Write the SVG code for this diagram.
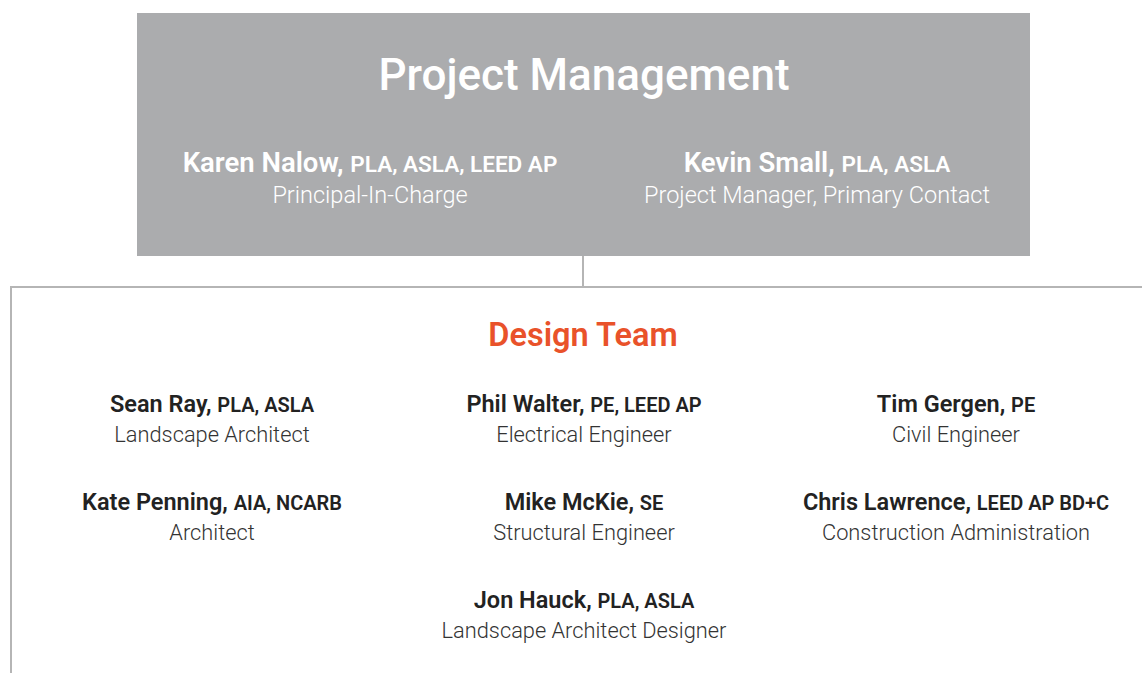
<svg xmlns="http://www.w3.org/2000/svg" width="1142" height="673" viewBox="0 0 1142 673">
<style>
text{font-family:Roboto,"Liberation Sans",sans-serif;text-anchor:middle}
.title{font-size:44px;font-weight:500;fill:#fff}
.pmname{font-size:27.5px;font-weight:600;fill:#fff}
.pmcred{font-size:22.5px;font-weight:600}
.pmrole{font-size:23.5px;font-weight:300;fill:#fff}
.team{font-size:32.5px;font-weight:600;fill:#E9522A}
.name{font-size:23.5px;font-weight:600;fill:#222}
.cred{font-size:20px;font-weight:600}
.role{font-size:21.8px;font-weight:300;fill:#333}
.line{stroke:#B5B5B5;stroke-width:2;fill:none}
</style>
<g id="connectors">
<path class="line" d="M583 256V287M10 287H1142M11 286V673"/>
</g>
<g id="project-management">
<rect x="137" y="13" width="893" height="243" fill="#ABACAE"/>
<text class="title" x="584" y="90">Project Management</text>
<text class="pmname" x="370" y="172">Karen Nalow, <tspan class="pmcred">PLA, ASLA, LEED AP</tspan></text>
<text class="pmrole" x="370" y="203">Principal-In-Charge</text>
<text class="pmname" x="817" y="172">Kevin Small, <tspan class="pmcred">PLA, ASLA</tspan></text>
<text class="pmrole" x="817" y="203">Project Manager, Primary Contact</text>
</g>
<g id="design-team">
<text class="team" x="583" y="346">Design Team</text>
</g>
<g id="sean-ray">
<text class="name" x="212" y="412">Sean Ray, <tspan class="cred">PLA, ASLA</tspan></text>
<text class="role" x="212" y="442">Landscape Architect</text>
</g>
<g id="phil-walter">
<text class="name" x="584" y="412">Phil Walter, <tspan class="cred">PE, LEED AP</tspan></text>
<text class="role" x="584" y="442">Electrical Engineer</text>
</g>
<g id="tim-gergen">
<text class="name" x="956" y="412">Tim Gergen, <tspan class="cred">PE</tspan></text>
<text class="role" x="956" y="442">Civil Engineer</text>
</g>
<g id="kate-penning">
<text class="name" x="212" y="510">Kate Penning, <tspan class="cred">AIA, NCARB</tspan></text>
<text class="role" x="212" y="540">Architect</text>
</g>
<g id="mike-mckie">
<text class="name" x="584" y="510">Mike McKie, <tspan class="cred">SE</tspan></text>
<text class="role" x="584" y="540">Structural Engineer</text>
</g>
<g id="chris-lawrence">
<text class="name" x="956" y="510">Chris Lawrence, <tspan class="cred">LEED AP BD+C</tspan></text>
<text class="role" x="956" y="540">Construction Administration</text>
</g>
<g id="jon-hauck">
<text class="name" x="584" y="608">Jon Hauck, <tspan class="cred">PLA, ASLA</tspan></text>
<text class="role" x="584" y="638">Landscape Architect Designer</text>
</g>
</svg>
